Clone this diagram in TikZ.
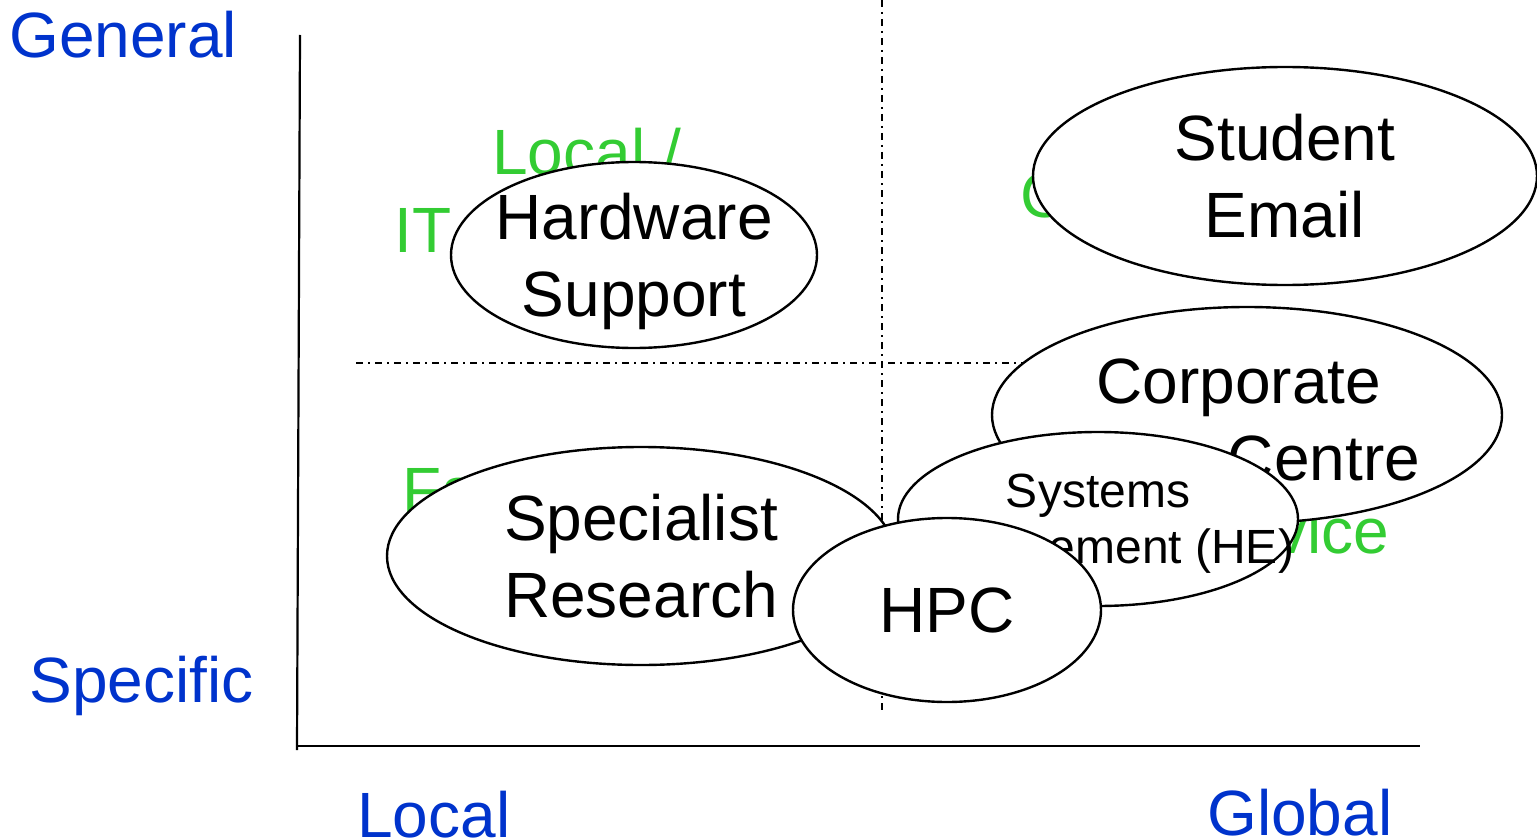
\documentclass[tikz,border=0pt]{standalone}
\usepackage{fontspec}
\setmainfont{Liberation Sans}
\usetikzlibrary{shapes.geometric}
\definecolor{axisblue}{HTML}{0033CC}
\definecolor{zonegreen}{HTML}{33CC33}
\begin{document}
\begin{tikzpicture}[
        x=0.5pt, y=-0.5pt,
        every node/.style={inner sep=0pt},
        big/.style={font=\fontsize{32}{38.5}\selectfont},
        small/.style={font=\fontsize{24}{28}\selectfont},
        blob/.style={draw, ellipse, fill=white, line width=1.2pt, inner sep=-60pt, text depth=0pt, align=center, big},
        axislabel/.style={anchor=base west, text=axisblue, big},
        zone/.style={anchor=base west, text=zonegreen, big},
        axisline/.style={line width=1.1pt},
        quadline/.style={line width=1.4pt, dash pattern=on 3.5pt off 2.5pt on 1pt off 2.5pt},
    ]
    \useasboundingbox (0,0) rectangle (1537,840);

    % axis labels
    \node[axislabel] (general) at (9,58) {General};
    \node[axislabel] (specific) at (29,702) {Specific};
    \node[axislabel] (local) at (357,837) {Local};
    \node[axislabel] (global) at (1207,835) {Global};

    % quadrant names, mostly covered
    \node[zone] (locit) at (492,175) {Local /};
    \node[zone] (itserv) at (394,252) {IT Services};
    \node[zone] (central) at (1020,217) {Central};
    \node[zone] (faculty) at (402,512) {Faculty};
    \node[zone, anchor=base east] (service) at (1390,553) {Service};

    % axes
    \coordinate (top) at (300,35);
    \coordinate (bottom) at (297,750);
    \coordinate (origin) at (297,746);
    \coordinate (right) at (1420,746);
    \draw[axisline] (top) -- (bottom);
    \draw[axisline] (origin) -- (right);

    % quadrant split
    \coordinate (vtop) at (882,0);
    \coordinate (vbot) at (882,710);
    \coordinate (hleft) at (356,363);
    \coordinate (hright) at (1100,363);
    \draw[quadline] (vtop) -- (vbot);
    \draw[quadline] (hleft) -- (hright);

    % services
    \node[blob, minimum width=183pt, minimum height=93pt] (hw) at (634,255) {Hardware\\Support};
    \node[blob, minimum width=252pt, minimum height=109pt] (mail) at (1285,176) {Student\\Email};
    \node[blob, minimum width=255pt, minimum height=108pt] (corp) at (1247,415) {};
    \node[big, anchor=base] (corptxt) at (1239,403) {Corporate};
    \node[big, anchor=base] (centre) at (1324,480) {Centre};
    \node[blob, small, minimum width=200pt, minimum height=87pt] (sys) at (1098,519) {Systems\\Management (HE)};
    \node[blob, minimum width=254pt, minimum height=109pt] (spec) at (641,556) {Specialist\\Research};
    \node[blob, minimum width=154pt, minimum height=92pt] (hpc) at (947,610) {HPC};

\end{tikzpicture}
\end{document}
